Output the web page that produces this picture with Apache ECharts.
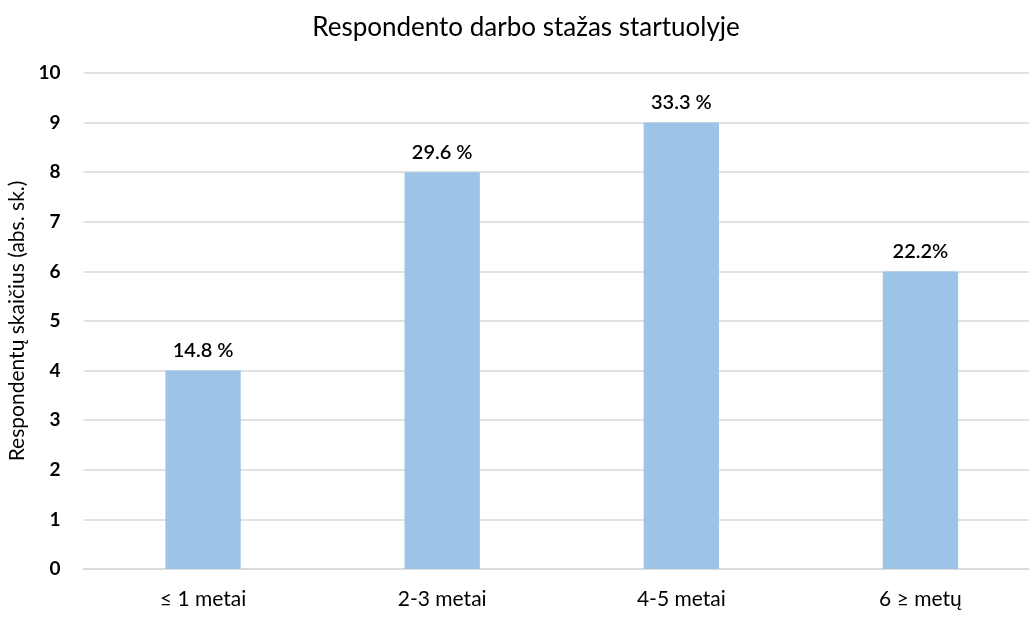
<!DOCTYPE html>
<html>
<head>
<meta charset="utf-8">
<script src="https://cdn.jsdelivr.net/npm/echarts@6/dist/echarts.min.js"></script>
<style>html,body{margin:0;padding:0;background:#fff;}#c{width:1029px;height:620px;}</style>
</head>
<body>
<div id="c"></div>
<script>
var categories = ['≤ 1 metai', '2-3 metai', '4-5 metai', '6 ≥ metų'];
var counts = [4, 8, 9, 6];
var percentLabels = ['14.8 %', '29.6 %', '33.3 %', '22.2%'];
var yTicks = [0, 1, 2, 3, 4, 5, 6, 7, 8, 9, 10];

var chart = echarts.init(document.getElementById('c'));
var font = 'Lato, "Open Sans", sans-serif';
chart.setOption({
  animation: false,
  backgroundColor: '#fff',
  title: {
    text: 'Respondento darbo stažas startuolyje',
    left: 521, top: 10, textAlign: 'center',
    textStyle: { fontFamily: font, fontSize: 26, fontWeight: 'normal', color: '#000' }
  },
  grid: { left: 83.5, right: -11, top: 73, bottom: 51, containLabel: false, outerBoundsMode: 'none' },
  xAxis: {
    type: 'category',
    data: categories,
    axisLine: { lineStyle: { color: '#d9d9d9', width: 1.5 } },
    axisTick: { show: false },
    axisLabel: { fontFamily: font, fontSize: 21, color: '#000', margin: 20 }
  },
  yAxis: {
    type: 'value',
    min: yTicks[0], max: yTicks[yTicks.length - 1], interval: 1,
    name: 'Respondentų skaičius (abs. sk.)',
    nameLocation: 'middle', nameGap: 52,
    nameTextStyle: { fontFamily: font, fontSize: 21, color: '#000' },
    axisLine: { show: false },
    axisTick: { show: false },
    splitLine: { lineStyle: { color: '#d9d9d9', width: 1.5 } },
    axisLabel: { fontFamily: font, fontSize: 19, fontWeight: 'bold', color: '#000', margin: 23 }
  },
  series: [{
    type: 'bar',
    data: counts,
    barWidth: '31.5%',
    itemStyle: { color: '#9dc3e6' },
    label: {
      show: true, position: 'top', distance: 10,
      fontFamily: font, fontSize: 20, fontWeight: 600, color: '#000',
      formatter: function (p) { return percentLabels[p.dataIndex]; }
    }
  }]
});
</script>
</body>
</html>
